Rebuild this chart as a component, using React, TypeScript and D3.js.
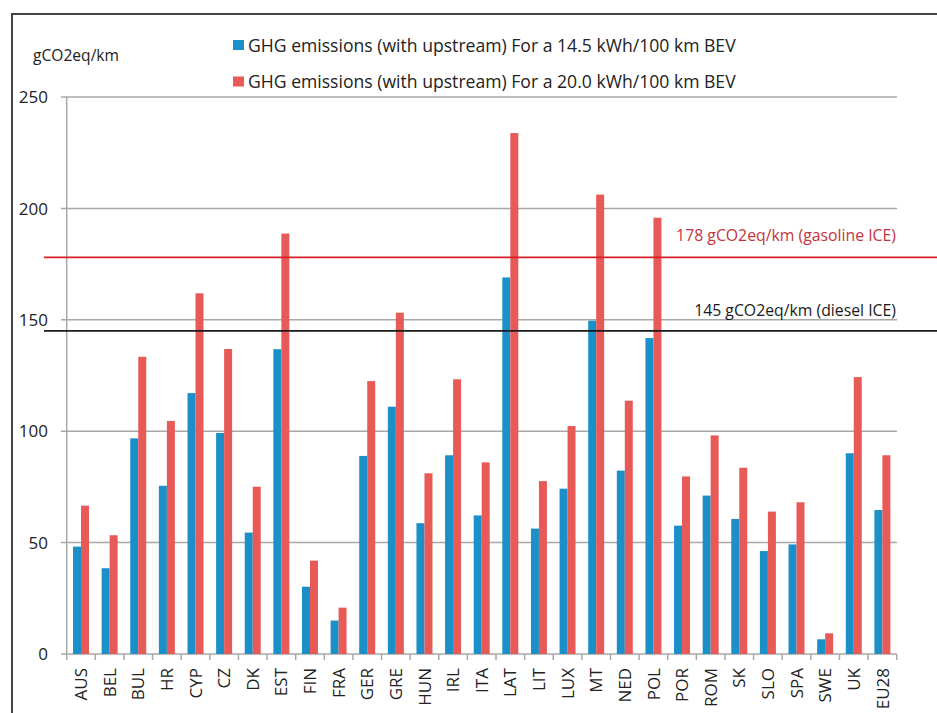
import React from "react";
import * as d3 from "d3";

const categories = ["AUS","BEL","BUL","HR","CYP","CZ","DK","EST","FIN","FRA","GER","GRE","HUN","IRL","ITA","LAT","LIT","LUX","MT","NED","POL","POR","ROM","SK","SLO","SPA","SWE","UK","EU28"];
const bev145 = [48.2,38.5,96.8,75.5,117.1,99.2,54.5,136.8,30.2,15,88.9,111,58.7,89.2,62.2,169,56.3,74.2,149.6,82.3,141.8,57.6,71.1,60.6,46.2,49.2,6.6,90.1,64.6];
const bev200 = [66.6,53.3,133.4,104.6,161.9,136.9,75.1,188.7,41.9,20.8,122.5,153.2,81.1,123.3,86,233.8,77.6,102.3,206.2,113.7,195.8,79.7,98.1,83.6,63.9,68.1,9.3,124.3,89.2];
const yTicks = [0,50,100,150,200,250];
const seriesNames = [
  "GHG emissions (with upstream) For a 14.5 kWh/100 km BEV",
  "GHG emissions (with upstream) For a 20.0 kWh/100 km BEV",
];
const refLines = [
  { value: 178, label: "178 gCO2eq/km (gasoline ICE)" },
  { value: 145, label: "145 gCO2eq/km (diesel ICE)" },
];

const BLUE = "#1b8fc8";
const RED = "#e85a58";
const GRID = "#a8a8a8";
const FONT = "'Open Sans', sans-serif";

export default function App() {
  const W = 937, H = 713;
  const x0 = 66.7, x1 = 896.7, yTop = 97, yBot = 654;
  const x = d3.scaleBand<string>().domain(categories).range([x0, x1]).paddingInner(0).paddingOuter(0);
  const xs = d3.scaleBand<string>().domain(["a", "b"]).range([0, x.bandwidth()]).paddingInner(0).paddingOuter(0.79);
  const y = d3.scaleLinear().domain([0, 250]).range([yBot, yTop]);
  const series = [bev145, bev200];
  const colors = [BLUE, RED];
  const refColors = ["#d81f26", "#1a1a1a"];
  const refText = ["#c3343c", "#1a1a1a"];

  return (
    <svg width={W} height={H} style={{ position: "absolute", left: 0, top: 0, background: "#fff" }} fontFamily={FONT}>
      <rect x={0} y={0} width={W} height={H} fill="#fff" />
      {/* frame */}
      <line x1={11} x2={W} y1={14} y2={14} stroke="#444" strokeWidth={2} />
      <line x1={12} x2={12} y1={13} y2={H} stroke="#444" strokeWidth={2} />

      {/* gridlines */}
      {yTicks.map((t) => (
        <g key={t}>
          <line x1={61} x2={t === 0 ? x1 : 897} y1={y(t)} y2={y(t)} stroke={GRID} strokeWidth={1.5} />
          <text x={48} y={y(t)} dy="0.36em" textAnchor="end" fontSize={17} fill="#222">{t}</text>
        </g>
      ))}
      {/* y axis */}
      <line x1={x0} x2={x0} y1={yTop} y2={yBot} stroke={GRID} strokeWidth={1.5} />
      {/* x ticks */}
      {categories.map((c) => (
        <line key={c} x1={x(c)!} x2={x(c)!} y1={yBot} y2={yBot + 6} stroke={GRID} strokeWidth={1.5} />
      ))}
      <line x1={x1} x2={x1} y1={yBot} y2={yBot + 6} stroke={GRID} strokeWidth={1.5} />

      {/* bars */}
      {series.map((s, si) => (
        <g key={si} fill={colors[si]}>
          {s.map((v, i) => {
            const c = categories[i];
            return (
              <rect key={c} x={x(c)! + xs(si === 0 ? "a" : "b")!} y={y(v)} width={xs.bandwidth()} height={y(0) - y(v)} />
            );
          })}
        </g>
      ))}

      {/* x labels */}
      {categories.map((c) => {
        const cx = x(c)! + x.bandwidth() / 2;
        return (
          <text key={c} transform={`translate(${cx},668) rotate(-90)`} textAnchor="end" dy="0.36em" fontSize={17} fill="#222">{c}</text>
        );
      })}

      {/* reference lines */}
      {refLines.map((r, i) => (
        <g key={r.label}>
          <line x1={44} x2={W} y1={y(r.value)} y2={y(r.value)} stroke={refColors[i]} strokeWidth={1.8} />
        </g>
      ))}
      <text x={896} y={241} textAnchor="end" fontSize={15.8} fill={refText[0]}>{refLines[0].label}</text>
      <text x={896} y={316} textAnchor="end" fontSize={15.8} fill={refText[1]}>{refLines[1].label}</text>

      {/* axis unit */}
      <text x={33} y={61} fontSize={15.6} fill="#222">gCO2eq/km</text>

      {/* legend */}
      {seriesNames.map((n, i) => (
        <g key={n}>
          <rect x={233} y={40 + i * 36.5} width={11} height={10} fill={colors[i]} />
          <text x={248} y={52 + i * 36} fontSize={17.6} fill="#222">{n}</text>
        </g>
      ))}
    </svg>
  );
}
